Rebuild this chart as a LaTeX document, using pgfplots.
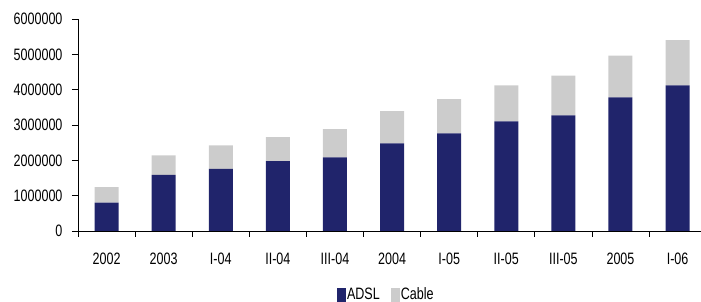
\documentclass[border=0pt]{standalone}
\usepackage{fontspec}
\setmainfont{Liberation Sans}[FakeStretch=0.76]
\usepackage{pgfplots}
\pgfplotsset{compat=1.18}
\definecolor{adsl}{RGB}{32,36,107}
\definecolor{cable}{RGB}{204,204,204}
\newcommand\lf{\fontsize{16.5}{16.5}\selectfont}
\begin{document}
\begin{tikzpicture}
\useasboundingbox (-78pt,-71pt) rectangle (623pt,231pt);
\begin{axis}[
  at={(0,0)}, anchor=south west,
  scale only axis, width=623pt, height=212pt,
  ybar stacked, bar width=24pt,
  xmin=-0.5, xmax=10.41, ymin=0, ymax=6000000,
  axis x line=bottom, axis y line=left,
  axis line style={-, line width=0.8pt, black},
  tick align=outside, major tick length=6pt,
  tick style={black, line width=0.8pt},
  scaled y ticks=false,
  xtick={-0.5,0.5,...,9.5}, xticklabel=\empty,
  extra x ticks={0,1,2,3,4,5,6,7,8,9,10},
  extra x tick labels={2002,2003,I-04,II-04,III-04,2004,I-05,II-05,III-05,2005,I-06},
  extra x tick style={major tick length=0pt},
  xticklabel style={font=\lf, yshift=-18pt},
  ytick={0,1000000,2000000,3000000,4000000,5000000,6000000},
  yticklabels={0,1000000,2000000,3000000,4000000,5000000,6000000},
  yticklabel style={font=\lf, xshift=-6pt},
  legend columns=2,
  legend style={draw=none, fill=none, at={(0.494,-0.300)}, anchor=center, font=\lf,
    nodes={inner xsep=1pt},
    /tikz/every even column/.append style={column sep=10pt},
    /tikz/every odd column/.append style={column sep=0pt}},
  legend image code/.code={\fill[#1,draw=none] (0pt,-7pt) rectangle (9pt,7pt);},
]
\addplot[fill=adsl, draw=none] coordinates {
 (0,800000) (1,1585000) (2,1755000) (3,1980000) (4,2085000) (5,2480000)
 (6,2765000) (7,3105000) (8,3275000) (9,3785000) (10,4120000)};
\addplot[fill=cable, draw=none] coordinates {
 (0,440000) (1,555000) (2,670000) (3,680000) (4,795000) (5,910000)
 (6,965000) (7,1015000) (8,1125000) (9,1175000) (10,1285000)};
\legend{ADSL,Cable}
\end{axis}
\end{tikzpicture}
\end{document}
